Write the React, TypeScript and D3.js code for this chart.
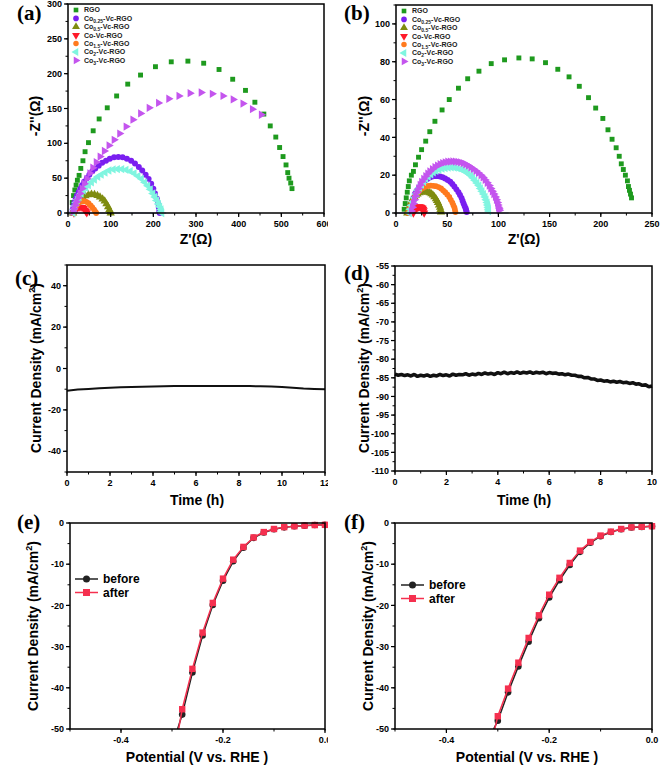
import React, { useEffect, useRef } from 'react';
import * as d3 from 'd3';

type Pt = [number, number];

// ---------- (a) Nyquist data ----------
const aRGO: Pt[] = [[10,15],[13,25],[16,33],[19,40],[22,47],[26,54],[30,64],[35,75],[40,88],[48,101],[59,118],[73,135],[92,151],[114,168],[140,185],[170,198],[205,210],[242,217],[281,218],[318,215],[354,206],[386,192],[416,176],[438,159],[459,142],[474,125],[487,109],[496,94],[504,81],[511,69],[515,58],[518,50],[522,43],[525,35]];
const aCo025: Pt[] = [[10,0],[11,5],[13,10],[15,15],[18,20],[21,25],[25,30],[29,35],[33,40],[38,45],[44,50],[50,55],[57,60],[64,64],[72,68],[80,72],[89,75],[98,78],[108,80],[118,80.5],[128,80],[138,78],[148,75],[157,71],[166,66],[174,61],[182,55],[189,49],[195,42],[200,35],[204,28],[208,21],[211,14],[213,8],[214,3],[215,0]];
const aCo05: Pt[] = [[12,0],[14,4],[17,8],[21,12],[25,16],[30,19],[35,22],[41,24.5],[48,26],[55,27],[62,26.5],[69,25],[75,23],[81,20],[86,17],[90,13],[94,9],[97,5],[99,2],[100,0]];
const aCo1: Pt[] = [[14,0],[16,3],[19,5.5],[23,7.5],[28,8.5],[33,8],[37,6.5],[40,4.5],[42,2.5],[44,0.5]];
const aCo15: Pt[] = [[12,0],[14,4],[17,8],[20,11],[24,14],[28,16],[33,17],[38,17],[43,16],[48,14],[53,11],[57,8],[61,5],[64,2],[66,0]];
const aCo2: Pt[] = [[12,0],[14,5],[16,10],[19,15],[22,19],[26,23],[31,28],[36,32],[42,36],[48,40],[55,44],[62,48],[70,52],[78,55],[87,58],[96,61],[106,62.5],[116,63],[126,63],[136,62],[146,60],[155,57],[164,53],[172,49],[180,44],[187,39],[193,34],[199,28],[204,23],[208,18],[212,13],[215,9],[218,5],[219,2],[220,0]];
const aCo3: Pt[] = [[12,2],[14,6],[17,11],[20,16],[24,22],[28,28],[33,35],[38,42],[44,49],[51,57],[58,65],[66,73],[75,81],[85,89],[96,97],[108,105],[121,114],[136,124],[152,134],[170,143],[190,151],[212,158],[236,164],[260,168],[286,172],[312,173],[338,171],[363,168],[387,163],[410,157],[432,149],[453,141]];
const aTail: Pt[] = [[0,0],[230,0]];

// ---------- (b) Nyquist data ----------
const bRGO: Pt[] = [[8,2],[9,5],[10,8],[11,11],[12,14],[13,17],[15,20],[17,22],[19,25.5],[22,29.5],[25,33.5],[29,38],[33,43],[38,48.5],[45,54.5],[52,60],[61,66],[70,71],[81,75],[93,79],[106,81],[120,82],[133,81.5],[146,79.5],[158,76],[169,72],[179,67],[188,61],[195,55.5],[202,50],[207,44],[211,39],[215,34.5],[218,30],[220,26],[222,23],[224,20],[226,17],[227,14],[228,12],[229,10],[230,8]];
const bCo025: Pt[] = [[12,0],[13,2],[14,4],[15.5,6],[17,8],[18.5,10],[20,11.5],[22,13],[24,14.5],[26,16],[28,17],[30.5,18],[33,18.8],[35.5,19.3],[38,19.5],[40.5,19.5],[43,19.3],[45.5,18.9],[48,18.3],[50.5,17.5],[53,16.5],[55,15.3],[57,14],[59,12.5],[61,11],[62.5,9.5],[64,8],[65,6.5],[66,5],[67,3.7],[68,2.5],[68.5,1.5],[69,0.5]];
const bCo05: Pt[] = [[11,0],[12,1.5],[13,3],[14,4.5],[15,6],[16.5,7.3],[18,8.5],[19.5,9.3],[21,10],[23,10.6],[25,11],[27,11.2],[29,11.2],[31,11],[33,10.7],[34.5,10.1],[36,9.5],[37.5,8.6],[39,7.5],[40,6.5],[41,5.5],[42,4.2],[43,3],[43.5,1.8],[44,0.5]];
const bCo1: Pt[] = [[17,0],[18,1.5],[19,2.2],[20,2.7],[21,3],[22,3.2],[23,3.3],[24,3.2],[25,2.9],[26,2.5],[26.5,1.9],[27,1.2],[27.5,0]];
const bCo15: Pt[] = [[12,0],[13,1.8],[14,3.5],[15.5,5.3],[17,7],[18.5,8.6],[20,10],[22,11.3],[24,12.5],[26.5,13.3],[29,14],[31.5,14.3],[34,14.5],[36.5,14.4],[39,14.2],[41.5,13.7],[44,13],[46,12],[48,11],[50,9.8],[52,8.5],[53.5,7],[55,5.5],[56,4.2],[57,3],[57.5,1.8],[58,0.5]];
const bCo2: Pt[] = [[13,0],[14,2],[15,4],[16.5,6],[18,8],[19.5,10],[21,12],[23,13.5],[25,15],[27,16.5],[29,18],[31.5,19.3],[34,20.5],[36.5,21.5],[39,22.3],[42,23],[45,23.5],[48,23.8],[51,24],[54,24.1],[57,24],[60,23.7],[63,23.2],[65.5,22.6],[68,21.8],[70.5,20.9],[73,19.8],[75,18.6],[77,17.3],[79,15.9],[81,14.5],[82.5,13],[84,11.5],[85.5,10],[87,8.5],[88,7],[89,5.5],[89.5,4.2],[90,3],[90.3,2],[90.5,1]];
const bCo3: Pt[] = [[15,1],[16,3],[17,5],[18,7],[19,9],[20.5,11],[22,13],[23.5,14.8],[25,16.5],[27,18],[29,19.5],[31,20.8],[33,22],[35.5,23.2],[38,24.3],[40.5,25.1],[43,25.8],[45.5,26.4],[48,26.8],[50.5,27.1],[53,27.2],[55.5,27.3],[58,27.2],[60.5,27],[63,26.8],[65.5,26.4],[68,25.8],[70.5,25.1],[73,24.2],[75.5,23.3],[78,22.3],[80.5,21.2],[83,20],[85,18.8],[87,17.5],[89,16],[91,14.5],[92.5,13],[94,11.5],[95.5,10],[97,8.5],[98,7],[99,5.5],[99.5,4.2],[100,3],[100.5,2.2],[101,1.5]];
const bTail: Pt[] = [[0,0],[110,0]];

const legendBase = ['RGO', 'Co', 'Co', 'Co-Vc-RGO', 'Co', 'Co', 'Co'];
const legendSub = ['', '0.25', '0.5', '', '1.5', '2', '3'];
const legendRest = ['', '-Vc-RGO', '-Vc-RGO', '', '-Vc-RGO', '-Vc-RGO', '-Vc-RGO'];

// ---------- (c) / (d) stability ----------
const cTime = [0,0.5,1,1.5,2,2.5,3,3.5,4,4.5,5,5.5,6,6.5,7,7.5,8,8.5,9,9.5,10,10.5,11,11.5,12];
const cCurrent = [-10.7,-10.2,-9.9,-9.6,-9.3,-9.1,-8.9,-8.8,-8.7,-8.6,-8.5,-8.5,-8.4,-8.4,-8.4,-8.5,-8.5,-8.5,-8.6,-8.7,-8.9,-9.3,-9.7,-9.9,-10.0];
const dTime = [0,0.125,0.25,0.375,0.5,0.625,0.75,0.875,1,1.125,1.25,1.375,1.5,1.625,1.75,1.875,2,2.125,2.25,2.375,2.5,2.625,2.75,2.875,3,3.125,3.25,3.375,3.5,3.625,3.75,3.875,4,4.125,4.25,4.375,4.5,4.625,4.75,4.875,5,5.125,5.25,5.375,5.5,5.625,5.75,5.875,6,6.125,6.25,6.375,6.5,6.625,6.75,6.875,7,7.125,7.25,7.375,7.5,7.625,7.75,7.875,8,8.125,8.25,8.375,8.5,8.625,8.75,8.875,9,9.125,9.25,9.375,9.5,9.625,9.75,9.875,10];
const dCurrent = [-84.0,-84.3,-84.1,-84.4,-84.2,-84.5,-84.1,-84.6,-84.3,-84.5,-84.2,-84.6,-84.3,-84.5,-84.1,-84.4,-84.2,-84.5,-84.0,-84.3,-84.1,-84.2,-83.9,-84.3,-84.0,-84.2,-83.8,-84.1,-83.7,-84.0,-83.8,-84.1,-83.6,-83.9,-83.5,-83.9,-83.6,-83.8,-83.4,-83.8,-83.5,-83.7,-83.4,-83.8,-83.5,-83.7,-83.5,-83.9,-83.6,-83.8,-83.7,-84.0,-83.9,-84.2,-84.0,-84.3,-84.3,-84.6,-84.6,-85.0,-84.9,-85.3,-85.3,-85.7,-85.6,-85.9,-85.8,-86.1,-85.9,-86.2,-86.0,-86.3,-86.2,-86.5,-86.3,-86.7,-86.6,-87.0,-86.9,-87.4,-87.2];

// ---------- (e) / (f) polarization ----------
const lsvPotential = [-0.28,-0.26,-0.24,-0.22,-0.20,-0.18,-0.16,-0.14,-0.12,-0.10,-0.08,-0.06,-0.04,-0.02,0];
const eBefore = [-46.5,-36.3,-27.3,-19.9,-14.0,-9.3,-6.0,-3.6,-2.3,-1.5,-1.05,-0.8,-0.65,-0.5,-0.45];
const eAfter = [-45.2,-35.4,-26.6,-19.4,-13.5,-8.9,-5.8,-3.5,-2.2,-1.45,-1.0,-0.78,-0.63,-0.5,-0.45];
const eBeforeEnd: Pt = [-0.289, -50];
const eAfterEnd: Pt = [-0.287, -50];
const fPotential = [-0.30,-0.28,-0.26,-0.24,-0.22,-0.20,-0.18,-0.16,-0.14,-0.12,-0.10,-0.08,-0.06,-0.04,-0.02,0];
const fBefore = [-48.0,-41.1,-34.8,-28.8,-23.1,-18.1,-13.9,-10.2,-7.0,-4.8,-3.2,-2.2,-1.5,-1.1,-0.97,-0.8];
const fAfter = [-46.9,-40.2,-33.9,-27.9,-22.4,-17.4,-13.3,-9.7,-6.7,-4.6,-3.05,-2.1,-1.45,-1.05,-0.92,-0.78];
const fBeforeEnd: Pt = [-0.308, -50];
const fAfterEnd: Pt = [-0.306, -50];
const lsvNames = ['before', 'after'];

// ---------- ticks ----------
const aXTicks = [0,100,200,300,400,500,600];
const aYTicks = [0,50,100,150,200,250,300];
const bXTicks = [0,50,100,150,200,250];
const bYTicks = [0,20,40,60,80,100];
const cXTicks = [0,2,4,6,8,10,12];
const cYTicks = [-40,-20,0,20,40];
const dXTicks = [0,2,4,6,8,10];
const dYTicks = [-110,-105,-100,-95,-90,-85,-80,-75,-70,-65,-60,-55];
const eXTicks = [-0.4,-0.2,0];
const eYTicks = [-50,-40,-30,-20,-10,0];

const SANS = 'Liberation Sans, Arial, sans-serif';
const SERIF = 'Liberation Serif, Times New Roman, serif';

const nyqStyles = [
  { color: '#1e9a1e', shape: d3.symbolSquare, rot: 0, size: 24 },
  { color: '#7a1ff0', shape: d3.symbolCircle, rot: 0, size: 28 },
  { color: '#7f8c10', shape: d3.symbolTriangle, rot: 0, size: 30 },
  { color: '#ff1a2a', shape: d3.symbolTriangle, rot: 180, size: 30 },
  { color: '#ff7a1e', shape: d3.symbolCircle, rot: 0, size: 26 },
  { color: '#80f5e0', shape: d3.symbolTriangle, rot: -90, size: 30 },
  { color: '#c455ee', shape: d3.symbolTriangle, rot: 90, size: 30 },
];

type G = d3.Selection<SVGGElement, unknown, null, undefined>;

function frame(g: G, x: d3.ScaleLinear<number, number>, y: d3.ScaleLinear<number, number>,
  xt: number[], xMinorStep: number, yt: number[], yMinorStep: number,
  fx: (v: number) => string, fy: (v: number) => string) {
  const [x0, x1] = x.range();
  const [y0, y1] = y.range();
  const [dx0, dx1] = x.domain();
  const [dy0, dy1] = y.domain();
  const ax = g.append('g');
  for (let k = 0; dx0 + k * xMinorStep <= dx1 + 1e-9; k++) {
    const v = dx0 + k * xMinorStep;
    ax.append('line').attr('x1', x(v)).attr('x2', x(v)).attr('y1', y0).attr('y2', y0 + 2.5).attr('stroke', '#000').attr('stroke-width', 1);
  }
  for (let k = 0; dy0 + k * yMinorStep <= dy1 + 1e-9; k++) {
    const v = dy0 + k * yMinorStep;
    ax.append('line').attr('x1', x0).attr('x2', x0 - 2.5).attr('y1', y(v)).attr('y2', y(v)).attr('stroke', '#000').attr('stroke-width', 1);
  }
  xt.forEach(v => {
    ax.append('line').attr('x1', x(v)).attr('x2', x(v)).attr('y1', y0).attr('y2', y0 + 4).attr('stroke', '#000').attr('stroke-width', 1.2);
    ax.append('text').attr('x', x(v)).attr('y', y0 + 14).attr('text-anchor', 'middle')
      .attr('font-family', SANS).attr('font-weight', 'bold').attr('font-size', 9).text(fx(v));
  });
  yt.forEach(v => {
    ax.append('line').attr('x1', x0).attr('x2', x0 - 4).attr('y1', y(v)).attr('y2', y(v)).attr('stroke', '#000').attr('stroke-width', 1.2);
    ax.append('text').attr('x', x0 - 6).attr('y', y(v)).attr('dy', '0.35em').attr('text-anchor', 'end')
      .attr('font-family', SANS).attr('font-weight', 'bold').attr('font-size', 9).text(fy(v));
  });
  ax.append('rect').attr('x', x0).attr('y', y1).attr('width', x1 - x0).attr('height', y0 - y1)
    .attr('fill', 'none').attr('stroke', '#000').attr('stroke-width', 1.5);
}

function xTitle(g: G, cx: number, cy: number, txt: string) {
  g.append('text').attr('x', cx).attr('y', cy).attr('dy', '0.35em').attr('text-anchor', 'middle')
    .attr('font-family', SANS).attr('font-weight', 'bold').attr('font-size', 14).text(txt);
}
function yTitle(g: G, cx: number, cy: number, txt: string) {
  g.append('text').attr('transform', `translate(${cx},${cy}) rotate(-90)`).attr('dy', '0.35em').attr('text-anchor', 'middle')
    .attr('font-family', SANS).attr('font-weight', 'bold').attr('font-size', 14).text(txt);
}
function yTitleCD(g: G, cx: number, cy: number) {
  const t = g.append('text').attr('transform', `translate(${cx},${cy}) rotate(-90)`).attr('dy', '0.35em').attr('text-anchor', 'middle')
    .attr('font-family', SANS).attr('font-weight', 'bold').attr('font-size', 14);
  t.append('tspan').text('Current Density (mA/cm');
  t.append('tspan').attr('font-size', 9).attr('dy', -6).text('2');
  t.append('tspan').attr('dy', 6).text(')');
}
function panelLabel(g: G, x: number, y: number, txt: string) {
  g.append('text').attr('x', x).attr('y', y).attr('font-family', SERIF).attr('font-weight', 'bold').attr('font-size', 21).text(txt);
}

function nyquist(g: G, x: d3.ScaleLinear<number, number>, y: d3.ScaleLinear<number, number>, series: Pt[][], tail: Pt[]) {
  const line = d3.line<Pt>().x(d => x(d[0])).y(d => y(d[1]));
  g.append('path').attr('d', line(tail)).attr('stroke', '#3040a0').attr('stroke-width', 0.8).attr('fill', 'none').attr('opacity', 0.7);
  series.forEach((s, i) => {
    const st = nyqStyles[i];
    const p = d3.symbol().type(st.shape).size(st.size)() as string;
    g.append('g').selectAll('path').data(s).join('path')
      .attr('d', p).attr('fill', st.color)
      .attr('transform', d => `translate(${x(d[0])},${y(d[1])}) rotate(${st.rot})`);
  });
  const lx = x.range()[0] + 8;
  const ly0 = y.range()[1] + 6;
  nyqStyles.forEach((st, i) => {
    const yy = ly0 + i * 8.4;
    const p = d3.symbol().type(st.shape).size(st.size * 0.9)() as string;
    g.append('path').attr('d', p).attr('fill', st.color).attr('transform', `translate(${lx},${yy}) rotate(${st.rot})`);
    const t = g.append('text').attr('x', lx + 8).attr('y', yy).attr('dy', '0.35em')
      .attr('font-family', SANS).attr('font-weight', 'bold').attr('font-size', 7).attr('fill', '#222');
    t.append('tspan').text(legendBase[i]);
    if (legendSub[i]) {
      t.append('tspan').attr('font-size', 5).attr('dy', 2).text(legendSub[i]);
      t.append('tspan').attr('dy', -2).text(legendRest[i]);
    }
  });
}

function lsv(g: G, x: d3.ScaleLinear<number, number>, y: d3.ScaleLinear<number, number>,
  pot: number[], before: number[], after: number[], bEnd: Pt, aEnd: Pt, legX: number, legY: number) {
  const line = d3.line<Pt>().x(d => x(d[0])).y(d => y(d[1]));
  const bp: Pt[] = [bEnd, ...pot.map((p, i) => [p, before[i]] as Pt)];
  const ap: Pt[] = [aEnd, ...pot.map((p, i) => [p, after[i]] as Pt)];
  const black = '#222222', red = '#f5304f';
  g.append('path').attr('d', line(bp)).attr('stroke', black).attr('stroke-width', 1.5).attr('fill', 'none');
  g.selectAll('circle.b').data(pot).join('circle').attr('class', 'b')
    .attr('cx', (p) => x(p)).attr('cy', (_p, i) => y(before[i])).attr('r', 3.3).attr('fill', black);
  g.append('path').attr('d', line(ap)).attr('stroke', red).attr('stroke-width', 1.5).attr('fill', 'none');
  g.selectAll('rect.a').data(pot).join('rect').attr('class', 'a')
    .attr('x', (p) => x(p) - 3.2).attr('y', (_p, i) => y(after[i]) - 3.2).attr('width', 6.4).attr('height', 6.4).attr('fill', red);
  [black, red].forEach((c, i) => {
    const yy = legY + i * 13.5;
    g.append('line').attr('x1', legX).attr('x2', legX + 23).attr('y1', yy).attr('y2', yy).attr('stroke', c).attr('stroke-width', 1.5);
    if (i === 0) g.append('circle').attr('cx', legX + 11.5).attr('cy', yy).attr('r', 3.5).attr('fill', c);
    else g.append('rect').attr('x', legX + 8).attr('y', yy - 3.5).attr('width', 7).attr('height', 7).attr('fill', c);
    g.append('text').attr('x', legX + 28).attr('y', yy).attr('dy', '0.35em').attr('font-family', SANS)
      .attr('font-weight', 'bold').attr('font-size', 12).text(lsvNames[i]);
  });
}

export default function App() {
  const ref = useRef<SVGSVGElement>(null);
  useEffect(() => {
    const svg = d3.select(ref.current as SVGSVGElement);
    svg.selectAll('*').remove();
    svg.append('rect').attr('width', 661).attr('height', 778).attr('fill', '#fff');
    const defs = svg.append('defs');
    defs.append('clipPath').attr('id', 'leftcol').append('rect').attr('x', 0).attr('y', 0).attr('width', 328).attr('height', 778);
    const left = svg.append('g').attr('clip-path', 'url(#leftcol)') as unknown as G;
    const right = svg.append('g') as unknown as G;
    const fInt = (v: number) => String(v);
    const f1 = (v: number) => v.toFixed(1);

    // (a)
    {
      const x = d3.scaleLinear().domain([0, 600]).range([68, 324]);
      const y = d3.scaleLinear().domain([0, 300]).range([213, 4]);
      const g = left.append('g') as G;
      nyquist(g, x, y, [aRGO, aCo025, aCo05, aCo1, aCo15, aCo2, aCo3], aTail);
      frame(g, x, y, aXTicks, 50, aYTicks, 25, fInt, fInt);
      xTitle(g, 196, 239, "Z'(Ω)");
      yTitle(g, 35, 116, "-Z''(Ω)");
      panelLabel(g, 17, 20, '(a)');
    }
    // (b)
    {
      const x = d3.scaleLinear().domain([0, 250]).range([396, 652]);
      const y = d3.scaleLinear().domain([0, 110]).range([213, 5]);
      const g = right.append('g') as G;
      nyquist(g, x, y, [bRGO, bCo025, bCo05, bCo1, bCo15, bCo2, bCo3], bTail);
      frame(g, x, y, bXTicks, 25, bYTicks, 10, fInt, fInt);
      xTitle(g, 524, 239, "Z'(Ω)");
      yTitle(g, 364, 116, "-Z''(Ω)");
      panelLabel(g, 344, 20, '(b)');
    }
    // (c)
    {
      const x = d3.scaleLinear().domain([0, 12]).range([67, 325]);
      const y = d3.scaleLinear().domain([-50, 50]).range([472, 265]);
      const g = left.append('g') as G;
      const line = d3.line<number>().x((_d, i) => x(cTime[i])).y(d => y(d));
      g.append('path').attr('d', line(cCurrent)).attr('stroke', '#111').attr('stroke-width', 2).attr('fill', 'none');
      frame(g, x, y, cXTicks, 1, cYTicks, 10, fInt, fInt);
      xTitle(g, 197, 500, 'Time (h)');
      yTitleCD(g, 36, 368);
      panelLabel(g, 15, 285, '(c)');
    }
    // (d)
    {
      const x = d3.scaleLinear().domain([0, 10]).range([395, 652]);
      const y = d3.scaleLinear().domain([-110, -55]).range([471, 266]);
      const g = right.append('g') as G;
      const line = d3.line<number>().x((_d, i) => x(dTime[i])).y(d => y(d));
      g.append('path').attr('d', line(dCurrent)).attr('stroke', '#111').attr('stroke-width', 3.6).attr('fill', 'none').attr('stroke-linejoin', 'bevel');
      frame(g, x, y, dXTicks, 1, dYTicks, 2.5, fInt, fInt);
      xTitle(g, 524, 500, 'Time (h)');
      yTitleCD(g, 364, 368);
      panelLabel(g, 344, 280, '(d)');
    }
    // (e)
    {
      const x = d3.scaleLinear().domain([-0.5, 0]).range([70, 325]);
      const y = d3.scaleLinear().domain([-50, 0]).range([729, 523]);
      const g = left.append('g') as G;
      lsv(g, x, y, lsvPotential, eBefore, eAfter, eBeforeEnd, eAfterEnd, 75, 579);
      frame(g, x, y, eXTicks, 0.1, eYTicks, 5, f1, fInt);
      xTitle(g, 197, 757, 'Potential (V vs. RHE )');
      yTitleCD(g, 33, 626);
      panelLabel(g, 17, 529, '(e)');
    }
    // (f)
    {
      const x = d3.scaleLinear().domain([-0.5, 0]).range([395, 652]);
      const y = d3.scaleLinear().domain([-50, 0]).range([729, 523]);
      const g = right.append('g') as G;
      lsv(g, x, y, fPotential, fBefore, fAfter, fBeforeEnd, fAfterEnd, 401, 585);
      frame(g, x, y, eXTicks, 0.1, eYTicks, 5, f1, fInt);
      xTitle(g, 527, 757, 'Potential (V vs. RHE )');
      yTitleCD(g, 368, 626);
      panelLabel(g, 344, 529, '(f)');
    }
  }, []);
  return (
    <svg ref={ref} width={661} height={778} style={{ position: 'absolute', left: 0, top: 0, display: 'block' }} />
  );
}
